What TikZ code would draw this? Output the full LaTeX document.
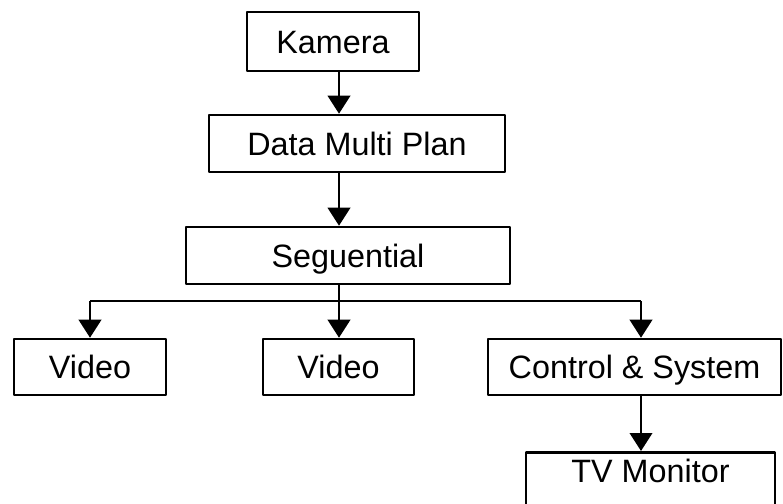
\documentclass[tikz,border=0pt]{standalone}
\usepackage{fontspec}
\setmainfont{Liberation Sans}
\usetikzlibrary{arrows.meta}

\tikzset{
  blok/.style={draw,line width=1.8pt,inner sep=0pt,text height=0.58cm,text depth=0pt,
    font=\fontsize{23}{27}\selectfont},
  alur/.style={line width=1.8pt},
}

\begin{document}
\begin{tikzpicture}[>={Triangle[width=0.56cm,length=0.45cm]},line join=round]
  \useasboundingbox (0,0) rectangle (19.575,12.575);
  \clip (0,0) rectangle (19.575,12.575);
  \coordinate (spine) at (8.475,0.000);
  \coordinate (bus) at (0.000,5.050);
  \coordinate (rbr) at (16.025,5.050);
  \node[blok,minimum width=4.300cm,minimum height=1.475cm] (kam) at (8.325,11.538) {Kamera};
  \node[blok,minimum width=7.400cm,minimum height=1.425cm] (dmp) at (8.925,8.988) {Data Multi Plan};
  \node[blok,minimum width=8.100cm,minimum height=1.425cm] (seq) at (8.700,6.188) {Seguential};
  \node[blok,minimum width=3.800cm,minimum height=1.400cm] (vida) at (2.250,3.400) {Video};
  \node[blok,minimum width=3.775cm,minimum height=1.400cm] (vidb) at (8.463,3.400) {Video};
  \node[blok,minimum width=7.325cm,minimum height=1.400cm] (ctl) at (15.863,3.400) {Control \& System};
  \node[blok,minimum width=6.225cm,inner ysep=0.175cm,text depth=1.2cm,anchor=north] (tv) at (16.263,1.300) {TV Monitor};
  \draw[alur,->] (kam.south -| spine) -- (dmp.north -| spine);
  \draw[alur,->] (dmp.south -| spine) -- (seq.north -| spine);
  \draw[alur,->] (seq.south -| spine) -- (vidb.north -| spine);
  \draw[alur] (vida.north |- bus) -- (rbr);
  \draw[alur,->] (vida.north |- bus) -- (vida.north);
  \draw[alur,->] (rbr) -- (ctl.north -| rbr);
  \draw[alur,->] (ctl.south -| rbr) -- (tv.north -| rbr);
\end{tikzpicture}
\end{document}
